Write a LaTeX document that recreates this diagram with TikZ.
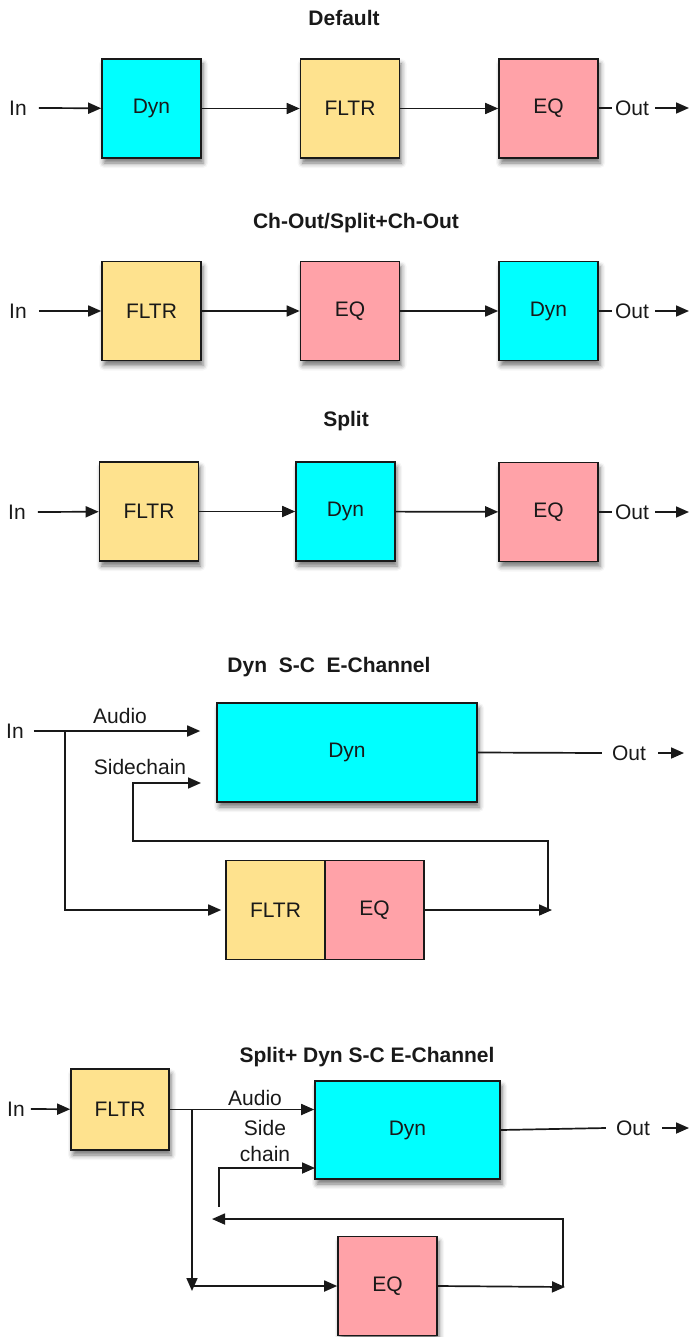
\documentclass[tikz,border=0pt]{standalone}
\usepackage{fontspec}
\setmainfont{Liberation Sans}
\usetikzlibrary{arrows.meta,shadows.blur,backgrounds}
\definecolor{cyanbox}{RGB}{0,255,255}
\definecolor{yelbox}{RGB}{254,226,142}
\definecolor{pinkbox}{RGB}{255,162,168}
\begin{document}
\begin{tikzpicture}[x=1pt,y=-1pt,
  boxns/.style={draw=black!90, line width=1.6pt, minimum width=99pt, minimum height=99pt,
    inner sep=0pt, font=\fontsize{21}{25}\selectfont, text=black!90},
  shd/.style={blur shadow={shadow xshift=2pt, shadow yshift=-5pt, shadow blur radius=5pt, shadow opacity=55}},
  box/.style={boxns, shd},
  lab/.style={font=\fontsize{21}{26}\selectfont, inner sep=0pt, text=black!90},
  ttl/.style={font=\bfseries\fontsize{21}{25}\selectfont, inner sep=0pt, text=black!90},
  arr/.style={line width=1.7pt, black!90, -{Triangle[length=13pt,width=11pt]}},
  ln/.style={line width=1.7pt, black!90},
]
\useasboundingbox (0,0) rectangle (693,1337);

% ---------- Section 1: Default ----------
\node[ttl] (t1) at (344,18) {Default};
\node[lab] (in1) at (18,108) {In};
\node[box, fill=cyanbox] (b11) at (151.5,108.5) {Dyn};
\node[box, fill=yelbox] (b12) at (350,108.5) {FLTR};
\node[box, fill=pinkbox] (b13) at (548.5,108.5) {EQ};
\node[lab] (o1) at (632,108) {Out};
\coordinate (e1) at (689,108);
\draw[arr] ([xshift=12pt]in1.east) -- (b11);
\draw[arr] (b11) -- (b12);
\draw[arr] (b12) -- (b13);
\draw[ln] (b13) -- ([xshift=-3pt]o1.west);
\draw[arr] ([xshift=6pt]o1.east) -- (e1);

% ---------- Section 2 ----------
\node[ttl] (t2) at (356,223) {Ch-Out/Split+Ch-Out};
\node[lab] (in2) at (18,311) {In};
\node[box, fill=yelbox] (b21) at (151.5,311) {FLTR};
\node[box, fill=pinkbox] (b22) at (350,311) {EQ};
\node[box, fill=cyanbox] (b23) at (548.5,311) {Dyn};
\node[lab] (o2) at (632,311) {Out};
\coordinate (e2) at (689,311);
\draw[arr] ([xshift=12pt]in2.east) -- (b21);
\draw[arr] (b21) -- (b22);
\draw[arr] (b22) -- (b23);
\draw[ln] (b23) -- ([xshift=-3pt]o2.west);
\draw[arr] ([xshift=6pt]o2.east) -- (e2);

% ---------- Section 3: Split ----------
\node[ttl] (t3) at (346,421) {Split};
\node[lab] (in3) at (17,512) {In};
\node[box, fill=yelbox] (b31) at (149,511.5) {FLTR};
\node[box, fill=cyanbox] (b32) at (345.5,511.5) {Dyn};
\node[box, fill=pinkbox] (b33) at (548.5,512) {EQ};
\node[lab] (o3) at (632,512) {Out};
\coordinate (e3) at (689,512);
\draw[arr] ([xshift=12pt]in3.east) -- (b31);
\draw[arr] (b31) -- (b32);
\draw[arr] (b32) -- (b33);
\draw[ln] (b33) -- ([xshift=-3pt]o3.west);
\draw[arr] ([xshift=6pt]o3.east) -- (e3);

% ---------- Section 4: Dyn S-C E-Channel ----------
\node[ttl] (t4) at (329,667) {Dyn\ \ S-C\ \ E-Channel};
\node[lab] (in4) at (15,731) {In};
\node[box, fill=cyanbox, minimum width=260pt] (b41) at (347,752.5) {Dyn};
\node[boxns, fill=yelbox] (b42) at (275.5,910) {FLTR};
\node[boxns, fill=pinkbox] (b43) at (374.5,910) {EQ};
\begin{scope}[on background layer]
  \path[shd, fill=white] (b42.north west) rectangle (b43.south east);
\end{scope}
\node[lab] (a4) at (120,716) {Audio};
\node[lab] (s4) at (140,767) {Sidechain};
\node[lab] (o4) at (629,753) {Out};
\coordinate (j4) at (65,731);
\coordinate (c4) at (548,910);
\coordinate (k4) at (133,841);
\coordinate (m4) at (217,783);
\coordinate (e4) at (684,753);
\draw[arr, shorten >=16pt] ([xshift=10pt]in4.east) -- (in4 -| b41.west);
\draw[arr, shorten >=4pt] (j4) |- (b42.west);
\draw[arr] (b43.east) -- ([xshift=4pt]c4);
\draw[arr, shorten >=16pt] (c4) |- (k4) |- (m4);
\draw[ln] (b41.east) -- ([xshift=-10pt]o4.west);
\draw[arr] ([xshift=12pt]o4.east) -- (e4);

% ---------- Section 5: Split+ Dyn S-C E-Channel ----------
\node[ttl] (t5) at (367,1057) {Split+ Dyn S-C E-Channel};
\node[lab] (in5) at (16,1109) {In};
\node[box, fill=yelbox, minimum width=98pt, minimum height=81pt] (b51) at (120,1109.5) {FLTR};
\node[box, fill=cyanbox, minimum width=185pt, minimum height=98pt] (b52) at (407.5,1130) {Dyn};
\node[box, fill=pinkbox] (b53) at (387.5,1286) {EQ};
\node[lab] (a5) at (255,1098) {Audio};
\node[lab, align=center] (s5) at (265,1141) {Side\\chain};
\node[lab] (o5) at (633,1128) {Out};
\coordinate (j5) at (192,1110);
\coordinate (d5) at (192,1291);
\coordinate (c5) at (563,1287);
\coordinate (f5) at (212,1219);
\coordinate (g5) at (219,1207);
\coordinate (h5) at (315,1168);
\coordinate (e5) at (689,1128);
\draw[arr] ([xshift=6pt]in5.east) -- (b51);
\draw[arr] (b51.east) -- (b51.east -| b52.west);
\draw[arr] (j5) -- (d5);
\draw[arr] (d5 |- b53) -- (b53.west);
\draw[arr] (b53.east) -- ([xshift=2pt]c5);
\draw[arr] (c5) |- (f5);
\draw[arr] (g5) |- (h5);
\draw[ln] (b52.east) -- ([xshift=-10pt]o5.west);
\draw[arr] ([xshift=12pt]o5.east) -- (e5);
\end{tikzpicture}
\end{document}
